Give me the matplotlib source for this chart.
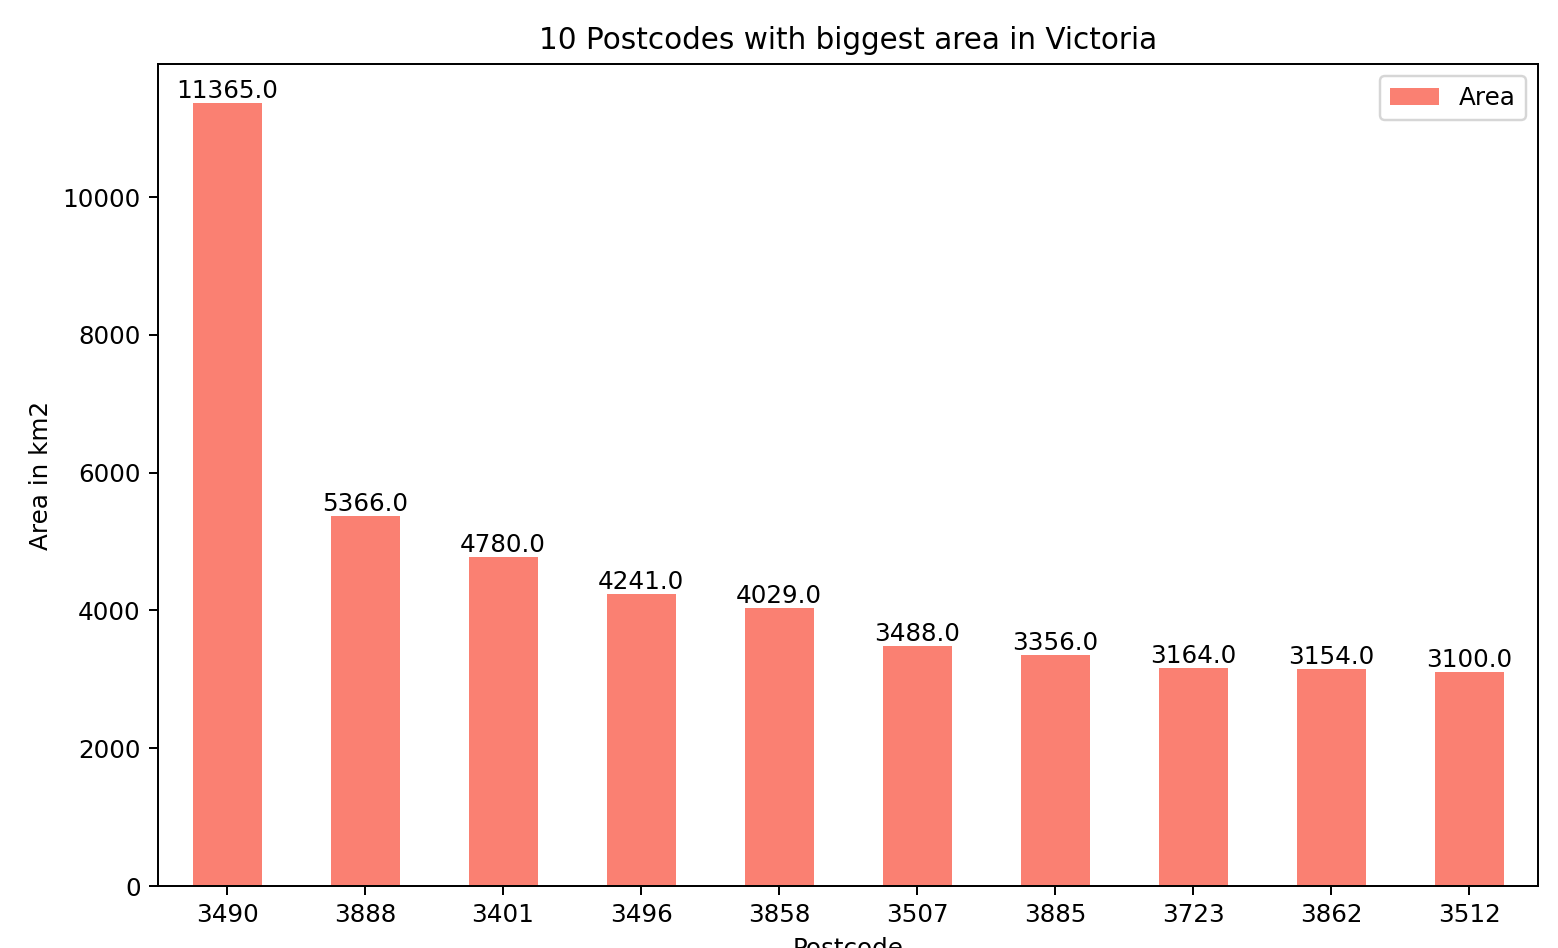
import matplotlib
matplotlib.use("Agg")
import matplotlib.pyplot as plt
import numpy as np

postcodes = ["3490", "3888", "3401", "3496", "3858", "3507", "3885", "3723", "3862", "3512"]
areas = [11365.0, 5366.0, 4780.0, 4241.0, 4029.0, 3488.0, 3356.0, 3164.0, 3154.0, 3100.0]

DPI = 177
fig = plt.figure(figsize=(1558 / DPI, 948 / DPI), dpi=DPI)
ax = fig.add_axes([158 / 1558, 1 - 886 / 948, 1380 / 1558, 822 / 948])

x = np.arange(len(postcodes))
bars = ax.bar(x, areas, width=0.5, color="salmon", label="Area")
ax.bar_label(bars, labels=[f"{v:.1f}" for v in areas])

ax.set_xticks(x)
ax.set_xticklabels(postcodes)
ax.set_xlim(-0.5, len(postcodes) - 0.5)
ax.set_title("10 Postcodes with biggest area in Victoria")
ax.set_xlabel("Postcode")
ax.set_ylabel("Area in km2")
ax.legend(loc="upper right")

fig.savefig("out.png", dpi=DPI)
